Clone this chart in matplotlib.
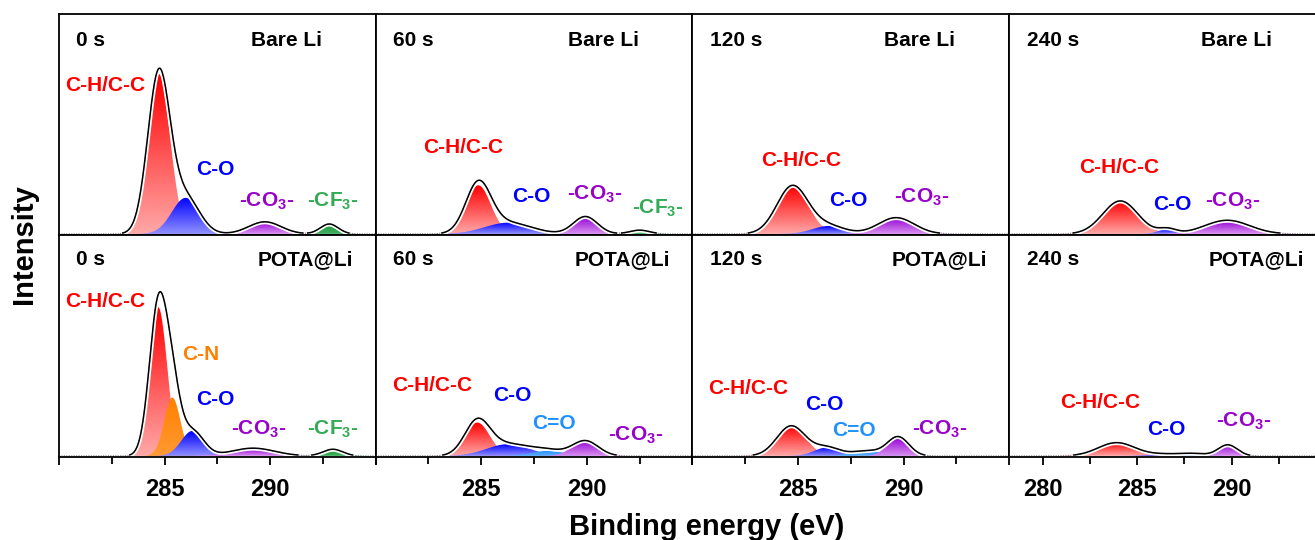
import numpy as np
import matplotlib
matplotlib.use("Agg")
import matplotlib.pyplot as plt
from matplotlib.colors import LinearSegmentedColormap

plt.rcParams.update({
    "font.family": ["Liberation Sans", "DejaVu Sans"],
    "font.weight": "bold",
    "mathtext.fontset": "custom",
    "mathtext.rm": "Liberation Sans:bold",
    "mathtext.bf": "Liberation Sans:bold",
    "mathtext.default": "bf",
    "axes.linewidth": 1.3,
})

TIMES = ["0 s", "60 s", "120 s", "240 s"]
SAMPLES = ["Bare Li", "POTA@Li"]

# C 1s fit components per etching time: species, centre (eV), height (norm.), FWHM (eV)
BARE_SPECIES = [["CH", "CO", "CO3", "CF3"], ["CH", "CO", "CO3", "CF3"],
                ["CH", "CO", "CO3"], ["CH", "CO", "CO3"]]
BARE_CENTER = [[284.73, 286.00, 289.75, 292.80], [284.86, 286.27, 289.93, 292.50],
               [284.74, 286.45, 289.65], [284.10, 286.60, 289.77]]
BARE_HEIGHT = [[0.727, 0.164, 0.055, 0.045], [0.221, 0.051, 0.079, 0.017],
               [0.218, 0.036, 0.074], [0.150, 0.022, 0.062]]
BARE_FWHM = [[1.25, 1.55, 1.8, 1.0], [1.4, 2.6, 1.35, 1.1],
             [1.75, 1.8, 2.0], [2.2, 1.1, 2.8]]

POTA_SPECIES = [["CH", "CN", "CO", "CO3", "CF3"], ["CH", "CO", "C=O", "CO3"],
                ["CH", "CO", "C=O", "CO3"], ["CH", "CO", "C=O", "CO3"]]
POTA_CENTER = [[284.70, 285.37, 286.32, 289.19, 292.97], [284.81, 286.27, 288.17, 289.93],
               [284.68, 286.37, 288.26, 289.75], [283.90, 286.50, 288.00, 289.80]]
POTA_HEIGHT = [[0.673, 0.264, 0.113, 0.035, 0.030], [0.151, 0.053, 0.023, 0.068],
               [0.136, 0.038, 0.023, 0.085], [0.060, 0.008, 0.010, 0.050]]
POTA_FWHM = [[1.0, 0.9, 1.25, 2.4, 1.1], [1.4, 2.4, 1.8, 1.45],
             [1.6, 1.4, 1.7, 1.2], [2.3, 2.0, 1.6, 1.2]]

# label text, gradient top colour, gradient bottom colour, label colour
STYLE = {
    "CH": ("C-H/C-C", "#ff0000", "#ffa8a8", "#ff0000"),
    "CN": ("C-N", "#ff7f00", "#ff9a33", "#ff8000"),
    "CO": ("C-O", "#0000ff", "#9090ff", "#0000ff"),
    "C=O": ("C=O", "#1e90ff", "#5fb0ff", "#1e90ff"),
    "CO3": ("-CO$_3$-", "#9400d3", "#d890f0", "#9900cc"),
    "CF3": ("-CF$_3$-", "#1f9a3a", "#40b060", "#33aa55"),
}

# where each peak name is written (eV, normalised intensity)
BARE_LABEL_XY = [
    {"CH": (282.21, 0.677), "CO": (287.38, 0.291), "CO3": (289.82, 0.147), "CF3": (292.95, 0.150)},
    {"CH": (284.15, 0.392), "CO": (287.38, 0.168), "CO3": (290.35, 0.182), "CF3": (293.37, 0.114)},
    {"CH": (285.15, 0.335), "CO": (287.39, 0.153), "CO3": (290.86, 0.165)},
    {"CH": (284.06, 0.300), "CO": (286.84, 0.135), "CO3": (290.04, 0.150)},
]
POTA_LABEL_XY = [
    {"CH": (282.21, 0.698), "CN": (286.71, 0.457), "CO": (287.38, 0.257),
     "CO3": (289.47, 0.118), "CF3": (292.97, 0.118)},
    {"CH": (282.68, 0.317), "CO": (286.46, 0.273), "C=O": (288.45, 0.145), "CO3": (292.29, 0.095)},
    {"CH": (282.63, 0.306), "CO": (286.26, 0.234), "C=O": (287.67, 0.113), "CO3": (291.73, 0.118)},
    {"CH": (283.03, 0.241), "CO": (286.53, 0.118), "CO3": (290.65, 0.155)},
]

XLIMS = [(280, 295), (280, 295), (280, 295), (278.2, 295)]


def gauss(x, c, h, fwhm):
    s = fwhm / 2.3548
    return h * np.exp(-0.5 * ((x - c) / s) ** 2)


def draw_panel(ax, species, centers, heights, fwhms, labels, xlim):
    x = np.linspace(xlim[0], xlim[1], 900)
    env = np.zeros_like(x)
    ramp = np.linspace(0, 1, 128).reshape(-1, 1)
    for k, (sp, c, h, w) in enumerate(zip(species, centers, heights, fwhms)):
        y = gauss(x, c, h, w)
        env += y
        _, top, bot, _ = STYLE[sp]
        z = 1 + 0.1 * k
        poly = ax.fill_between(x, 0, y, facecolor="none", edgecolor="none", zorder=z)
        cmap = LinearSegmentedColormap.from_list(sp, [bot, top])
        im = ax.imshow(ramp, cmap=cmap, origin="lower", aspect="auto",
                       extent=(x[0], x[-1], 0, h), zorder=z, interpolation="bilinear")
        im.set_clip_path(poly.get_paths()[0], transform=ax.transData)

    # summed envelope with white halo, raw trace as grey dots
    env_line = np.where(env > 0.004, env, np.nan)
    ax.plot(x, env_line, color="white", lw=3.6, zorder=3)
    ax.plot(x, env, color="0.5", lw=0.8, ls=(0, (1, 1.2)), zorder=4)
    ax.plot(x, env_line, color="black", lw=1.1, zorder=5)

    for sp, (lx, ly) in labels.items():
        text, _, _, col = STYLE[sp]
        ax.text(lx, ly, text, color=col, fontsize=15, ha="center", va="center", zorder=7)

    ax.set_xlim(*xlim)
    ax.set_ylim(-0.005, 1.0)
    ax.set_yticks([])
    for s in ax.spines.values():
        s.set_zorder(6)


fig = plt.figure(figsize=(13.15, 5.4), dpi=100)
W, H = 1315, 540
lefts = [59 + 316.7 * j for j in range(4)]
rows = [(14, 235), (235, 457)]

data = [
    (BARE_SPECIES, BARE_CENTER, BARE_HEIGHT, BARE_FWHM, BARE_LABEL_XY),
    (POTA_SPECIES, POTA_CENTER, POTA_HEIGHT, POTA_FWHM, POTA_LABEL_XY),
]
sample_x = [0.83, 0.93]
tag_y = [0.882, 0.891]

for i, (top, bottom) in enumerate(rows):
    species, centers, heights, fwhms, label_xy = data[i]
    for j in range(4):
        ax = fig.add_axes([lefts[j] / W, 1 - bottom / H, 316.7 / W, (bottom - top) / H])
        draw_panel(ax, species[j], centers[j], heights[j], fwhms[j], label_xy[j], XLIMS[j])
        ax.text(0.055, tag_y[i], TIMES[j], transform=ax.transAxes, fontsize=15,
                ha="left", va="center")
        ax.text(sample_x[i], tag_y[i], SAMPLES[i], transform=ax.transAxes, fontsize=15,
                ha="right", va="center")
        if i == 0:
            ax.tick_params(axis="x", bottom=False, labelbottom=False)
        else:
            if j < 3:
                ax.set_xticks([280, 285, 290, 295], ["", "285", "290", ""])
            else:
                ax.set_xticks([280, 285, 290], ["280", "285", "290"])
            ax.set_xticks([282.5, 287.5, 292.5], minor=True)
            ax.tick_params(axis="x", which="major", direction="out", length=6,
                           width=1.3, labelsize=17, pad=9)
            ax.tick_params(axis="x", which="minor", direction="out", length=5, width=1.3)

fig.text(707 / W, 5 / H, "Binding energy (eV)", fontsize=21, ha="center", va="baseline")
fig.text(0.018, 1 - 244 / H, "Intensity", fontsize=21, rotation=90, ha="center", va="center")

fig.savefig("out.png", dpi=100)
